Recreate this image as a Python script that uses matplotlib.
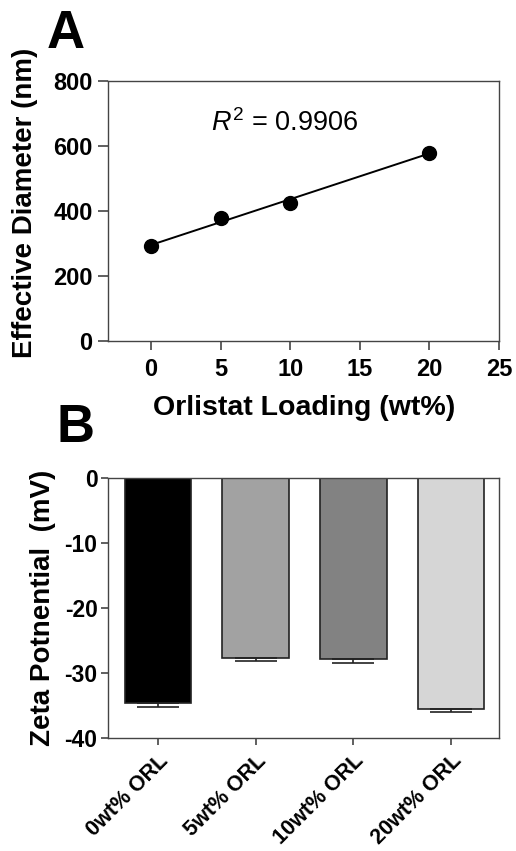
import numpy as np
import matplotlib
matplotlib.use("Agg")
import matplotlib.pyplot as plt

plt.rcParams['font.family'] = ['Liberation Sans', 'DejaVu Sans']
plt.rcParams['axes.unicode_minus'] = False
plt.rcParams['mathtext.fontset'] = 'custom'
plt.rcParams['mathtext.rm'] = 'Liberation Sans'
plt.rcParams['mathtext.it'] = 'Liberation Sans:italic'
plt.rcParams['mathtext.bf'] = 'Liberation Sans:bold'

# Panel A data
loading = [0, 5, 10, 20]
diameter = [292, 379, 424, 580]
r2_text = "0.9906"

# Panel B data
categories = ["0wt% ORL", "5wt% ORL", "10wt% ORL", "20wt% ORL"]
zeta = [-34.6, -27.7, -27.8, -35.5]
zeta_err = [0.7, 0.5, 0.6, 0.5]
bar_colors = ["#000000", "#a2a2a2", "#828282", "#d6d6d6"]

W, H = 516, 851
fig = plt.figure(figsize=(W / 100, H / 100), dpi=100)

spine_col = "#444444"

def style(ax, tsize):
    for s in ax.spines.values():
        s.set_color(spine_col)
        s.set_linewidth(1.0)
    ax.tick_params(axis='both', direction='out', width=1.2,
                   color=spine_col, labelsize=tsize)
    for lab in ax.get_xticklabels() + ax.get_yticklabels():
        lab.set_fontweight('bold')

# ---------- Panel A ----------
axA = fig.add_axes([108 / W, 1 - 341 / H, (499 - 108) / W, (341 - 81) / H])
slope, intercept = np.polyfit(loading, diameter, 1)
xs = np.array([min(loading), max(loading)])
axA.plot(xs, slope * xs + intercept, color='black', lw=1.4, zorder=2)
axA.plot(loading, diameter, 'o', color='black', ms=10, zorder=3)
axA.set_xlim(-3.1, 25)
axA.set_ylim(0, 800)
axA.set_xticks([0, 5, 10, 15, 20, 25])
axA.set_yticks([0, 200, 400, 600, 800])
style(axA, 17)
axA.tick_params(axis='x', length=6.5, pad=5.5)
axA.tick_params(axis='y', length=7, pad=4)
axA.set_xlabel("Orlistat Loading (wt%)", fontsize=20.5, fontweight='bold')
axA.xaxis.set_label_coords(0.501, -0.208)
axA.set_ylabel("Effective Diameter (nm)", fontsize=20, fontweight='bold')
axA.yaxis.set_label_coords(-0.179, 0.533)
axA.text(9.6, 670, r"$R^2$ = " + r2_text, fontsize=19.5, ha='center', va='center')
fig.text(47 / W, 1 - 48 / H, "A", fontsize=38, fontweight='bold', ha='left', va='baseline')

# ---------- Panel B ----------
axB = fig.add_axes([108 / W, 1 - 738 / H, (499 - 108) / W, (738 - 478) / H])
pos = np.arange(len(categories))
axB.bar(pos, zeta, width=0.68, color=bar_colors, edgecolor='#222222', linewidth=1.2, zorder=2)
axB.errorbar(pos, zeta, yerr=[zeta_err, [0] * len(zeta)], fmt='none', ecolor='#222222',
             elinewidth=1.2, capsize=15, capthick=1.2, zorder=3)
axB.set_xlim(-0.51, 3.49)
axB.set_ylim(-40, 0)
axB.set_yticks([0, -10, -20, -30, -40])
axB.set_xticks(pos)
axB.set_xticklabels(categories)
style(axB, 16.5)
axB.tick_params(axis='x', length=5, pad=4, labelsize=15.5)
axB.tick_params(axis='y', length=5, pad=2.5)
for lab in axB.get_xticklabels():
    lab.set_rotation(45)
    lab.set_ha('right')
    lab.set_rotation_mode('anchor')
axB.set_ylabel("Zeta Potnential  (mV)", fontsize=20, fontweight='bold')
axB.yaxis.set_label_coords(-0.133, 0.502)
fig.text(56 / W, 1 - 442 / H, "B", fontsize=38, fontweight='bold', ha='left', va='baseline')

fig.savefig("out.png", dpi=100)
